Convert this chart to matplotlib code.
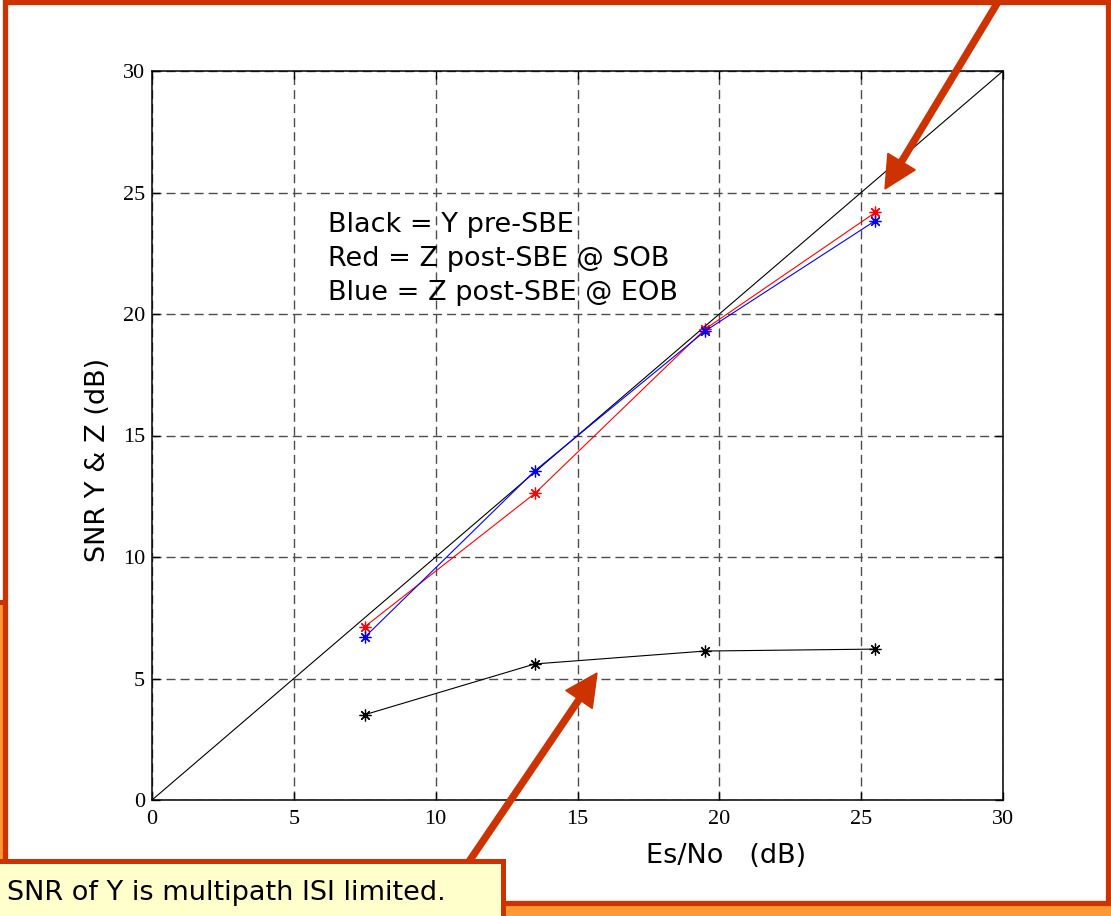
import matplotlib
matplotlib.use("Agg")
import matplotlib.pyplot as plt
import matplotlib.patches as mpatches
import matplotlib.transforms as mtransforms

# ---- data ----
esno = [7.5, 13.5, 19.5, 25.5]
snr_y_pre = [3.51, 5.60, 6.13, 6.21]
snr_z_sob = [7.13, 12.62, 19.38, 24.18]
snr_z_eob = [6.70, 13.55, 19.30, 23.84]
ref_line = [0, 30]
ticks = [0, 5, 10, 15, 20, 25, 30]
legend_lines = ["Black = Y pre-SBE", "Red = Z post-SBE @ SOB", "Blue = Z post-SBE @ EOB"]
note_text = "SNR of Y is multipath ISI limited."

W, H = 1111, 916
DARK = "#CC3300"
LIGHT = "#FF9933"
fig = plt.figure(figsize=(W / 100, H / 100), dpi=100)
pix = mtransforms.Affine2D().scale(1 / 100.0) + fig.dpi_scale_trans

def Y(y):
    return H - y

# background frame pieces
fig.patches.append(mpatches.Rectangle((0, 0), W, H - 904, facecolor=LIGHT, edgecolor="none",
                                      transform=pix, zorder=-5))
fig.patches.append(mpatches.Rectangle((-3, -3), 8, Y(602) + 3, facecolor=LIGHT, edgecolor=DARK,
                                      linewidth=3.6, transform=pix, zorder=-4))
fig.patches.append(mpatches.Rectangle((5, Y(903)), 1103, 901, facecolor="white", edgecolor=DARK,
                                      linewidth=3.8, transform=pix, zorder=-3))

ax = fig.add_axes([152 / W, 1 - 800 / H, (1003 - 152) / W, (800 - 71) / H])
ax.plot(ref_line, ref_line, color="black", lw=0.8)
mk = (8, 2, 0)
ax.plot(esno, snr_y_pre, color="black", lw=0.8, marker=mk, ms=8.5, mew=0.9)
ax.plot(esno, snr_z_sob, color="#FF0000", lw=0.8, marker=mk, ms=8.5, mew=0.9)
ax.plot(esno, snr_z_eob, color="#0000FF", lw=0.8, marker=mk, ms=8.5, mew=0.9)
ax.set_xlim(0, 30)
ax.set_ylim(0, 30)
ax.set_xticks(ticks)
ax.set_yticks(ticks)
ax.set_xticklabels([str(t) for t in ticks], family="Liberation Serif", fontsize=16)
ax.set_yticklabels([str(t) for t in ticks], family="Liberation Serif", fontsize=16)
ax.tick_params(axis="both", direction="in", length=6, width=1, top=True, right=True)
ax.tick_params(axis="x", pad=7)
ax.tick_params(axis="y", pad=5)
ax.grid(True, color="0.3", linestyle=(0, (6.5, 3.6)), linewidth=1.0)
for s in ax.spines.values():
    s.set_linewidth(1.1)
    s.set_color("black")

fig.text(98, Y(460), "SNR Y & Z (dB)", transform=pix, rotation=90, ha="center", va="center",
         fontsize=19.5, family="DejaVu Sans")
fig.text(726, Y(863), "Es/No   (dB)", transform=pix, ha="center", va="baseline",
         fontsize=19.5, family="DejaVu Sans")

for txt, yb in zip(legend_lines, [232, 266, 300]):
    fig.text(328, Y(yb), txt, transform=pix, ha="left", va="baseline", fontsize=19.5,
             family="DejaVu Sans", zorder=4)

# arrows
fig.patches.append(mpatches.FancyArrow(1001, Y(-3), 885 - 1001, Y(189) - Y(-3), width=6,
                                       head_width=32, head_length=32, length_includes_head=True,
                                       color=DARK, transform=pix, zorder=5))
fig.patches.append(mpatches.FancyArrow(466, Y(866), 597 - 466, Y(673) - Y(866), width=6,
                                       head_width=32, head_length=32, length_includes_head=True,
                                       color=DARK, transform=pix, zorder=5))

# note box
fig.patches.append(mpatches.Rectangle((-5, -5), 508, Y(861) + 5, facecolor="#FFFFCC", edgecolor=DARK,
                                      linewidth=3.6, transform=pix, zorder=6))
fig.text(7, Y(900), note_text, transform=pix, ha="left", va="baseline", fontsize=19.5,
         family="DejaVu Sans", zorder=7)

fig.savefig("out.png", dpi=100)
